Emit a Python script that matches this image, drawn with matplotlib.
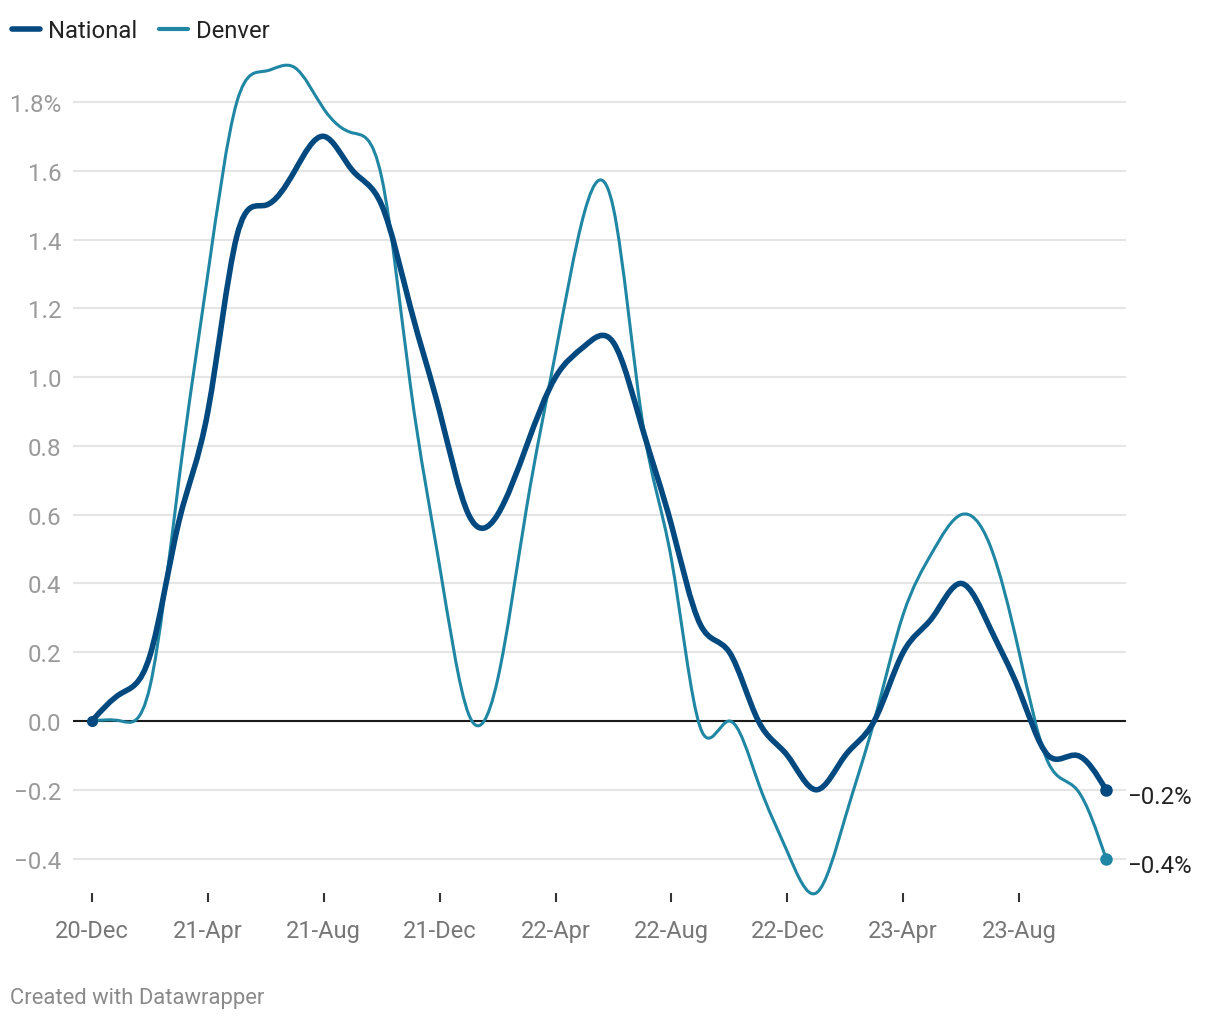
import numpy as np
import matplotlib
matplotlib.use("Agg")
import matplotlib.pyplot as plt
from matplotlib.path import Path
from matplotlib.patches import PathPatch
from matplotlib.lines import Line2D

plt.rcParams['font.family'] = ['Roboto', 'DejaVu Sans']

# ---------------- data (monthly, Dec 2020 - Nov 2023) ----------------
series_names = ["National", "Denver"]
national = [0.0, 0.08, 0.19, 0.58, 0.9, 1.41, 1.5, 1.6, 1.7, 1.6, 1.5, 1.2,
            0.9, 0.6, 0.6, 0.8, 1.0, 1.09, 1.1, 0.85, 0.57, 0.28, 0.2, 0.0,
            -0.1, -0.2, -0.1, 0.0, 0.2, 0.3, 0.4, 0.27, 0.09, -0.1, -0.1, -0.2]
denver = [0.0, 0.0, 0.1, 0.7, 1.3, 1.8, 1.89, 1.9, 1.78, 1.71, 1.58, 0.97,
          0.45, 0.02, 0.12, 0.62, 1.07, 1.48, 1.49, 0.87, 0.47, -0.02, 0.0, -0.18,
          -0.38, -0.5, -0.28, 0.0, 0.31, 0.49, 0.6, 0.51, 0.2, -0.12, -0.2, -0.4]
x_tick_labels = ["20-Dec", "21-Apr", "21-Aug", "21-Dec", "22-Apr",
                 "22-Aug", "22-Dec", "23-Apr", "23-Aug"]
y_ticks = [-0.4, -0.2, 0.0, 0.2, 0.4, 0.6, 0.8, 1.0, 1.2, 1.4, 1.6, 1.8]
y_tick_labels = ["\u22120.4", "\u22120.2", "0.0", "0.2", "0.4", "0.6", "0.8",
                 "1.0", "1.2", "1.4", "1.6", "1.8%"]

colors = {"National": "#02497f", "Denver": "#1f86a3"}
widths = {"National": 4.0, "Denver": 2.2}


def natural_controls(v):
    v = np.asarray(v, dtype=float)
    n = len(v) - 1
    a = np.zeros(n); b = np.zeros(n); r = np.zeros(n)
    a[0], b[0], r[0] = 0, 2, v[0] + 2 * v[1]
    for i in range(1, n - 1):
        a[i], b[i], r[i] = 1, 4, 4 * v[i] + 2 * v[i + 1]
    a[n - 1], b[n - 1], r[n - 1] = 2, 7, 8 * v[n - 1] + v[n]
    for i in range(1, n):
        m = a[i] / b[i - 1]
        b[i] -= m
        r[i] -= m * r[i - 1]
    a[n - 1] = r[n - 1] / b[n - 1]
    for i in range(n - 2, -1, -1):
        a[i] = (r[i] - a[i + 1]) / b[i]
    b[n - 1] = (v[n] + a[n - 1]) / 2
    for i in range(n - 1):
        b[i] = 2 * v[i + 1] - a[i + 1]
    return a, b


def curve_path(xs, ys):
    ax_, bx_ = natural_controls(xs)
    ay_, by_ = natural_controls(ys)
    verts = [(xs[0], ys[0])]
    codes = [Path.MOVETO]
    for i in range(len(xs) - 1):
        verts += [(ax_[i], ay_[i]), (bx_[i], by_[i]), (xs[i + 1], ys[i + 1])]
        codes += [Path.CURVE4] * 3
    return Path(verts, codes)


W, H = 1220, 1020
fig = plt.figure(figsize=(W / 100, H / 100), dpi=100)
fig.patch.set_facecolor("white")

# axes placement in pixels
ymin, ymax = -0.5, 1.93
px_per_unit = 343.9
top_px = 722 - ymax * px_per_unit
bot_px = 722 - ymin * px_per_unit
ax = fig.add_axes([73 / W, 1 - bot_px / H, (1126 - 73) / W, (bot_px - top_px) / H])
n = len(national)
xs = np.arange(n)
ax.set_xlim(-19 / 29, (n - 1) + 20 / 29)
ax.set_ylim(ymin, ymax)

for s in ax.spines.values():
    s.set_visible(False)

ax.set_yticks(y_ticks)
ax.set_yticklabels(y_tick_labels)
ax.tick_params(axis="y", length=0, pad=8.5, labelsize=17.4, labelcolor="#9a9a9a")
for lab in ax.get_yticklabels():
    lab.set_horizontalalignment("right")
ax.grid(axis="y", color="#e5e5e5", linewidth=1.5)
ax.set_axisbelow(True)
ax.axhline(0, color="#1a1a1a", linewidth=1.5, zorder=2)

tick_idx = list(range(0, n, 4))[:len(x_tick_labels)]
ax.set_xticks(tick_idx)
ax.set_xticklabels(x_tick_labels)
ax.tick_params(axis="x", direction="out", length=6.5, width=1.5, color="#333333",
               pad=12.5, labelsize=17, labelcolor="#777777")

for name, vals in zip(series_names, [national, denver]):
    path = curve_path(xs.astype(float), np.array(vals, dtype=float))
    patch = PathPatch(path, facecolor="none", edgecolor=colors[name],
                      linewidth=widths[name], capstyle="round", joinstyle="round",
                      zorder=4 if name == "National" else 3, clip_on=False)
    ax.add_patch(patch)
    if name == "National":
        ax.plot([xs[0]], [vals[0]], "o", color=colors[name], markersize=7,
                zorder=5, clip_on=False)
    ax.plot([xs[-1]], [vals[-1]], "o", color=colors[name], markersize=8, zorder=5,
            clip_on=False)
    lab = f"{vals[-1]:.1f}%".replace("-", "\u2212")
    ax.annotate(lab, xy=(xs[-1], vals[-1]), xytext=(15, -9.6), textcoords="offset points",
                ha="left", va="baseline", fontsize=17.3, color="#222222",
                annotation_clip=False)

# legend
leg_y = 1 - 30 / H
legend_pos = {"National": (12, 40, 48), "Denver": (159, 188, 196)}
for name in series_names:
    x0, x1, tx = legend_pos[name]
    fig.add_artist(Line2D([x0 / W, x1 / W], [leg_y, leg_y], color=colors[name],
                          linewidth=4 if name == "National" else 3,
                          solid_capstyle="round", transform=fig.transFigure))
    fig.text(tx / W, 1 - 37.5 / H, name, ha="left", va="baseline", fontsize=17.2,
             color="#222222")

fig.text(10 / W, 1 - 1004 / H, "Created with Datawrapper", ha="left", va="baseline",
         fontsize=15.8, color="#8a8a8a")

fig.savefig("out.png", dpi=100, facecolor="white")
